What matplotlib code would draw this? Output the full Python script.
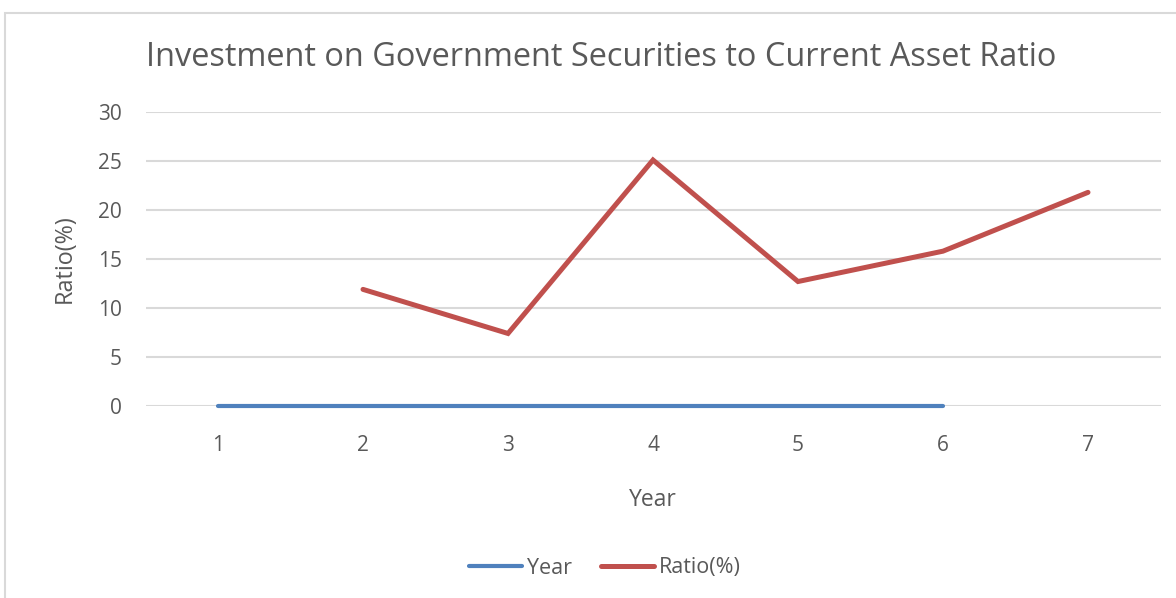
import matplotlib.pyplot as plt
from matplotlib.patches import Rectangle
import numpy as np

plt.rcParams['font.family'] = ['Open Sans', 'DejaVu Sans']

categories = [1, 2, 3, 4, 5, 6, 7]
year_series = [0, 0, 0, 0, 0, 0, np.nan]
ratio_series = [np.nan, 11.9, 7.4, 25.1, 12.7, 15.8, 21.8]

text_col = '#595959'
grid_col = '#D9D9D9'

fig = plt.figure(figsize=(11.76, 5.98), dpi=100)
# chart border, like an Excel chart area
fig.patches.append(Rectangle((5/1176, -0.05), 1.1, 1 - 13/598 + 0.05,
                             transform=fig.transFigure, fill=False,
                             edgecolor='#D9D9D9', lw=1.5))

ax = fig.add_axes([145.5/1176, 1 - 406/598, 1015/1176, 294/598])
x = np.arange(len(categories))
ax.plot(x, year_series, color='#4F81BD', lw=3.0, solid_capstyle='round',
        label='Year', zorder=3, clip_on=False)
ax.plot(x, ratio_series, color='#C0504D', lw=3.6, solid_capstyle='round',
        solid_joinstyle='miter', label='Ratio(%)', zorder=3)

ax.set_xlim(-0.5, len(categories) - 0.5)
ax.set_ylim(0, 30)
ax.set_yticks(np.arange(0, 31, 5))
ax.set_xticks(x)
ax.set_xticklabels([str(c) for c in categories])
ax.grid(axis='y', color=grid_col, lw=1.5)
ax.set_axisbelow(True)
for s in ax.spines.values():
    s.set_visible(False)
ax.tick_params(length=0, colors=text_col, labelsize=15)
ax.tick_params(axis='y', pad=17)
ax.tick_params(axis='x', pad=21)

ax.set_xlabel('Year', color=text_col, fontsize=16.5, labelpad=23)
ax.set_ylabel('Ratio(%)', color=text_col, fontsize=16.8, labelpad=15)

fig.text(601/1176, 1 - 58/598, 'Investment on Government Securities to Current Asset Ratio',
         ha='center', va='center', color=text_col, fontsize=23.4)

fig.legend(loc='center', bbox_to_anchor=(605/1176, 1 - 568/598), ncol=2, frameon=False,
           fontsize=15.5, labelcolor=text_col, handlelength=2.45, handletextpad=0.23,
           columnspacing=1.35)

fig.savefig('out.png', dpi=100, facecolor='white')
